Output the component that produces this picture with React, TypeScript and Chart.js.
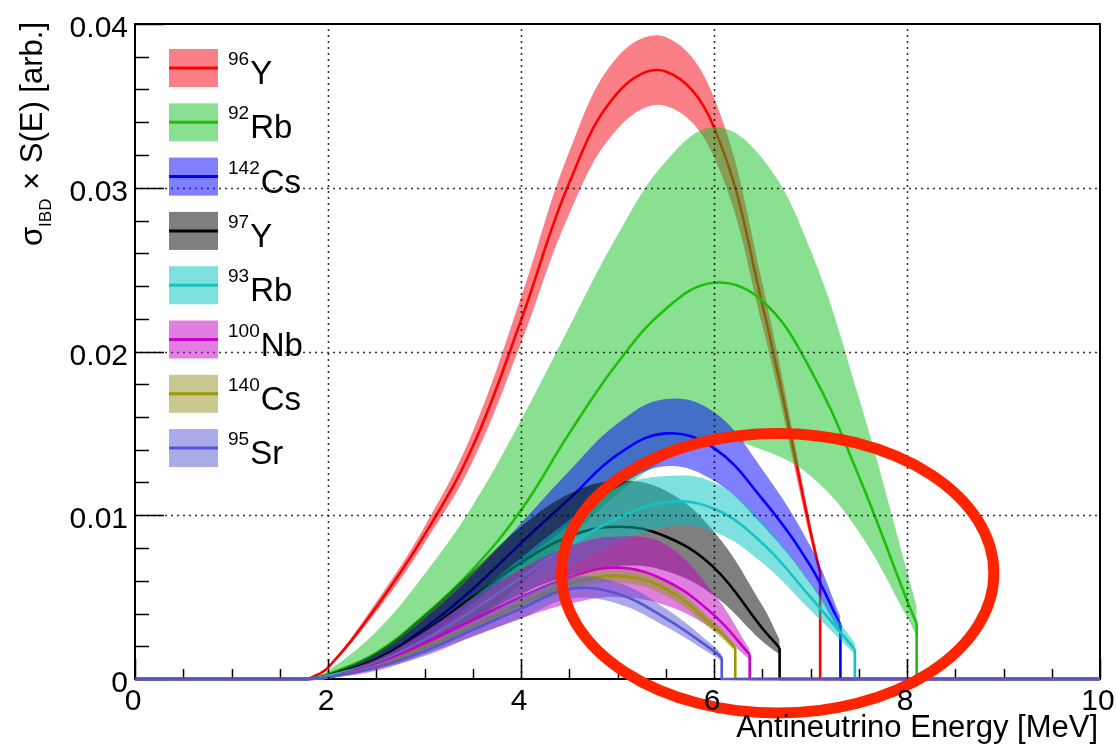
import React, { useEffect, useRef } from "react";
import { Chart, registerables } from "chart.js";

Chart.register(...registerables);

// ---------------- data ----------------
const ENERGY_GRID = [1.8, 2.0, 2.5, 3.0, 3.5, 4.0, 4.5, 5.0, 5.5, 6.0, 6.5, 7.0, 7.5, 8.0];

const MASS_NUMBERS = ["96", "92", "142", "97", "93", "100", "140", "95"];
const SYMBOLS = ["Y", "Rb", "Cs", "Y", "Rb", "Nb", "Cs", "Sr"];
const ENDPOINTS = [7.1, 8.1, 7.31, 6.68, 7.46, 6.37, 6.22, 6.08];

const Y96_C = [0, 0.0007, 0.0044, 0.0088, 0.0142, 0.0219, 0.0303, 0.0358, 0.0371, 0.0337, 0.0229, 0.009, 0.0065];
const Y96_U = [0, 0.00075, 0.0047, 0.0093, 0.0151, 0.0233, 0.0322, 0.038, 0.0392, 0.0355, 0.0242, 0.0095, 0.0068];
const Y96_L = [0, 0.00065, 0.0041, 0.0083, 0.0133, 0.0205, 0.0284, 0.0336, 0.035, 0.0319, 0.0216, 0.0085, 0.0062];

const RB92_C = [0, 0.0003, 0.0016, 0.0039, 0.0067, 0.0103, 0.015, 0.0193, 0.0226, 0.0242, 0.0231, 0.0189, 0.0124, 0.0048, 0.0034];
const RB92_U = [0, 0.0005, 0.0029, 0.0064, 0.0106, 0.0158, 0.0215, 0.0271, 0.0316, 0.0337, 0.0318, 0.0262, 0.0172, 0.0066, 0.0044];
const RB92_L = [0, 0.0001, 0.0008, 0.002, 0.0036, 0.0058, 0.0086, 0.0113, 0.0134, 0.0146, 0.014, 0.0124, 0.009, 0.0038, 0.0026];

const CS142_C = [0, 0.0002, 0.0012, 0.0031, 0.0055, 0.0083, 0.011, 0.0137, 0.015, 0.0141, 0.011, 0.0069, 0.0033];
const CS142_U = [0, 0.00025, 0.0015, 0.0037, 0.0064, 0.0095, 0.0127, 0.0156, 0.0171, 0.0163, 0.0128, 0.0081, 0.0038];
const CS142_L = [0, 0.00015, 0.0009, 0.0025, 0.0046, 0.0071, 0.0094, 0.0117, 0.013, 0.0121, 0.0094, 0.0058, 0.0028];

const Y97_C = [0, 0.0002, 0.0012, 0.0029, 0.005, 0.0071, 0.0087, 0.0093, 0.0087, 0.0068, 0.0031, 0.0019];
const Y97_U = [0, 0.0003, 0.0016, 0.0039, 0.0066, 0.0093, 0.0113, 0.0121, 0.0115, 0.009, 0.0045, 0.0024];
const Y97_L = [0, 0.0001, 0.0008, 0.002, 0.0036, 0.0052, 0.0063, 0.0069, 0.0066, 0.0051, 0.0023, 0.0015];

const RB93_C = [0, 0.0002, 0.001, 0.0024, 0.0042, 0.0062, 0.0082, 0.0098, 0.0108, 0.0104, 0.0083, 0.005, 0.0018];
const RB93_U = [0, 0.00025, 0.0012, 0.0029, 0.005, 0.0074, 0.0097, 0.0117, 0.0124, 0.012, 0.0096, 0.0059, 0.0022];
const RB93_L = [0, 0.00015, 0.0008, 0.0019, 0.0034, 0.0051, 0.0068, 0.0083, 0.0093, 0.009, 0.0071, 0.0042, 0.0015];

const NB100_C = [0, 0.0001, 0.0009, 0.0022, 0.0036, 0.005, 0.0062, 0.0068, 0.006, 0.0039, 0.0015];
const NB100_U = [0, 0.00015, 0.0012, 0.0029, 0.0049, 0.0067, 0.0081, 0.0087, 0.0082, 0.0052, 0.0018];
const NB100_L = [0, 0.00005, 0.0005, 0.0015, 0.0026, 0.0037, 0.0046, 0.005, 0.0045, 0.003, 0.0012];

const CS140_C = [0, 0.0001, 0.0008, 0.0019, 0.0032, 0.0046, 0.0058, 0.0063, 0.0055, 0.0032, 0.0019];
const CS140_U = [0, 0.00012, 0.0009, 0.0021, 0.0035, 0.005, 0.0062, 0.0067, 0.0059, 0.0035, 0.0021];
const CS140_L = [0, 0.00008, 0.0007, 0.0017, 0.0029, 0.0042, 0.0054, 0.0059, 0.0051, 0.0029, 0.0017];

const SR95_C = [0, 0.0001, 0.0007, 0.0017, 0.003, 0.0043, 0.0055, 0.0052, 0.0037, 0.0017, 0.0013];
const SR95_U = [0, 0.00012, 0.0009, 0.002, 0.0035, 0.005, 0.0062, 0.0059, 0.0043, 0.002, 0.0015];
const SR95_L = [0, 0.00008, 0.0006, 0.0014, 0.0026, 0.0037, 0.0049, 0.0046, 0.0032, 0.0014, 0.0011];

const CENTERS = [Y96_C, RB92_C, CS142_C, Y97_C, RB93_C, NB100_C, CS140_C, SR95_C];
const UPPERS = [Y96_U, RB92_U, CS142_U, Y97_U, RB93_U, NB100_U, CS140_U, SR95_U];
const LOWERS = [Y96_L, RB92_L, CS142_L, Y97_L, RB93_L, NB100_L, CS140_L, SR95_L];

const LINE_COLORS = [
  "rgb(255,0,0)",
  "rgb(30,190,10)",
  "rgb(0,0,255)",
  "rgb(0,0,0)",
  "rgb(20,195,195)",
  "rgb(200,0,200)",
  "rgb(153,153,0)",
  "rgb(85,85,215)",
];
const BAND_COLORS = [
  "rgba(245,0,15,0.5)",
  "rgba(17,193,33,0.5)",
  "rgba(0,0,255,0.5)",
  "rgba(0,0,0,0.5)",
  "rgba(0,193,193,0.5)",
  "rgba(193,0,193,0.5)",
  "rgba(145,145,35,0.5)",
  "rgba(85,85,210,0.5)",
];

const X_MIN = 0;
const X_MAX = 10;
const Y_MIN = 0;
const Y_MAX = 0.04;
const X_TICKS = [0, 2, 4, 6, 8, 10];
const X_TICK_LABELS = ["0", "2", "4", "6", "8", "10"];
const Y_TICKS = [0, 0.01, 0.02, 0.03, 0.04];
const Y_TICK_LABELS = ["0", "0.01", "0.02", "0.03", "0.04"];
const X_MINOR_STEP = 0.5;
const Y_MINOR_STEP = 0.002;

const X_TITLE = "Antineutrino Energy [MeV]";

// annotation ellipse (data coordinates)
const ELLIPSE_CENTER = { x: 6.66, y: 0.00646 };
const ELLIPSE_RADII = { x: 2.24, y: 0.00854 };

const FONT = '"Liberation Sans", Arial, Helvetica, sans-serif';

// ---------------- plugin: ROOT-like frame, grid, legend, labels ----------------
const rootStyle = {
  id: "rootStyle",
  beforeDatasetsDraw(chart: any) {
    const { ctx, chartArea: a, scales } = chart;
    const x = scales.x;
    const y = scales.y;
    ctx.save();
    ctx.strokeStyle = "#000";
    ctx.lineWidth = 2;
    ctx.strokeRect(a.left, a.top, a.right - a.left, a.bottom - a.top);
    ctx.lineWidth = 1.5;
    const nx = Math.round((X_MAX - X_MIN) / X_MINOR_STEP);
    for (let i = 0; i <= nx; i++) {
      const v = X_MIN + i * X_MINOR_STEP;
      const px = Math.round(x.getPixelForValue(v)) + 0.5;
      const len = i % 4 === 0 ? 20 : 10;
      ctx.beginPath();
      ctx.moveTo(px, a.bottom);
      ctx.lineTo(px, a.bottom - len);
      ctx.stroke();
    }
    const ny = Math.round((Y_MAX - Y_MIN) / Y_MINOR_STEP);
    for (let i = 0; i <= ny; i++) {
      const v = Y_MIN + i * Y_MINOR_STEP;
      const py = Math.round(y.getPixelForValue(v)) + 0.5;
      const len = i % 5 === 0 ? 29 : 14;
      ctx.beginPath();
      ctx.moveTo(a.left, py);
      ctx.lineTo(a.left + len, py);
      ctx.stroke();
    }
    ctx.restore();
  },
  afterDatasetsDraw(chart: any) {
    const { ctx, chartArea: a, scales } = chart;
    const x = scales.x;
    const y = scales.y;
    ctx.save();
    ctx.strokeStyle = "rgba(0,0,0,0.8)";
    ctx.lineWidth = 1.6;
    ctx.setLineDash([2, 4]);
    X_TICKS.forEach((v) => {
      if (v === X_MIN || v === X_MAX) return;
      const px = Math.round(x.getPixelForValue(v)) + 0.5;
      ctx.beginPath();
      ctx.moveTo(px, a.bottom);
      ctx.lineTo(px, a.top);
      ctx.stroke();
    });
    Y_TICKS.forEach((v) => {
      if (v === Y_MIN || v === Y_MAX) return;
      const py = Math.round(y.getPixelForValue(v)) + 0.5;
      ctx.beginPath();
      ctx.moveTo(a.left, py);
      ctx.lineTo(a.right, py);
      ctx.stroke();
    });
    ctx.restore();
  },
  afterDraw(chart: any) {
    const { ctx, chartArea: a, scales } = chart;
    const x = scales.x;
    const y = scales.y;
    ctx.save();

    // legend
    const boxL = 169;
    const boxW = 49;
    const boxH = 38;
    const rowY0 = 68;
    const rowDY = 54.3;
    MASS_NUMBERS.forEach((m, k) => {
      const cy = rowY0 + k * rowDY;
      ctx.fillStyle = BAND_COLORS[k];
      ctx.fillRect(boxL, cy - boxH / 2, boxW, boxH);
      ctx.strokeStyle = LINE_COLORS[k];
      ctx.lineWidth = 3;
      ctx.beginPath();
      ctx.moveTo(boxL, cy);
      ctx.lineTo(boxL + boxW, cy);
      ctx.stroke();
      ctx.fillStyle = "#000";
      ctx.textAlign = "left";
      ctx.textBaseline = "alphabetic";
      ctx.font = `19px ${FONT}`;
      ctx.fillText(m, 228, cy - 3);
      const w = ctx.measureText(m).width;
      ctx.font = `33px ${FONT}`;
      ctx.fillText(SYMBOLS[k], 228 + w + 1, cy + 16);
    });

    // annotation ellipse
    const ecx = x.getPixelForValue(ELLIPSE_CENTER.x);
    const ecy = y.getPixelForValue(ELLIPSE_CENTER.y);
    const erx = x.getPixelForValue(ELLIPSE_CENTER.x + ELLIPSE_RADII.x) - ecx;
    const ery = ecy - y.getPixelForValue(ELLIPSE_CENTER.y + ELLIPSE_RADII.y);
    ctx.strokeStyle = "rgb(255,36,0)";
    ctx.lineWidth = 11;
    ctx.beginPath();
    ctx.ellipse(ecx, ecy, erx, ery, 0, 0, Math.PI * 2);
    ctx.stroke();

    // tick labels
    ctx.fillStyle = "#000";
    ctx.font = `30px ${FONT}`;
    ctx.textBaseline = "alphabetic";
    ctx.textAlign = "right";
    Y_TICKS.forEach((v, i) => {
      const py = y.getPixelForValue(v);
      ctx.fillText(Y_TICK_LABELS[i], a.left - 7, py + 13);
    });
    ctx.textAlign = "center";
    X_TICKS.forEach((v, i) => {
      const px = x.getPixelForValue(v);
      ctx.fillText(X_TICK_LABELS[i], px - 2, a.bottom + 31);
    });

    // x title
    ctx.font = `31px ${FONT}`;
    ctx.textAlign = "right";
    ctx.fillText(X_TITLE, a.right - 2, a.bottom + 58);

    // y title: sigma_IBD x S(E) [arb.]
    const parts = [
      { t: "σ", size: 31, dy: 0 },
      { t: "IBD", size: 17, dy: 9 },
      { t: " × S(E) [arb.]", size: 31, dy: 0 },
    ];
    let total = 0;
    const widths = parts.map((p) => {
      ctx.font = `${p.size}px ${FONT}`;
      const w = ctx.measureText(p.t).width;
      total += w;
      return w;
    });
    ctx.translate(42, 22 + total);
    ctx.rotate(-Math.PI / 2);
    ctx.textAlign = "left";
    let cx = 0;
    parts.forEach((p, i) => {
      ctx.font = `${p.size}px ${FONT}`;
      ctx.fillText(p.t, cx, p.dy);
      cx += widths[i];
    });
    ctx.restore();
  },
};

export default function App() {
  const ref = useRef<HTMLCanvasElement>(null);

  useEffect(() => {
    const canvas = ref.current;
    if (!canvas) return;
    const datasets: any[] = [];
    MASS_NUMBERS.forEach((m, k) => {
      const end = ENDPOINTS[k];
      const energies = ENERGY_GRID.filter((e) => e < end).concat([end]);
      const toPts = (vals: number[]) => energies.map((e, i) => ({ x: e, y: vals[i] }));
      const c = CENTERS[k];
      const base = [
        { x: X_MIN, y: 0 },
        { x: ENERGY_GRID[0], y: 0 },
        { x: ENERGY_GRID[0], y: null },
        { x: end, y: c[c.length - 1] },
        { x: end, y: 0 },
        { x: X_MAX, y: 0 },
      ];
      const idx = datasets.length;
      datasets.push({
        label: `${m}${SYMBOLS[k]} upper`,
        data: toPts(UPPERS[k]),
        borderWidth: 0,
        borderColor: "rgba(0,0,0,0)",
        backgroundColor: BAND_COLORS[k],
        fill: { target: idx + 1 },
        tension: 0.4,
        pointRadius: 0,
      });
      datasets.push({
        label: `${m}${SYMBOLS[k]} lower`,
        data: toPts(LOWERS[k]),
        borderWidth: 0,
        borderColor: "rgba(0,0,0,0)",
        fill: false,
        tension: 0.4,
        pointRadius: 0,
      });
      datasets.push({
        label: `${m}${SYMBOLS[k]}`,
        data: toPts(c),
        borderWidth: 2.6,
        borderColor: LINE_COLORS[k],
        fill: false,
        tension: 0.4,
        pointRadius: 0,
        clip: false,
      });
      datasets.push({
        label: `${m}${SYMBOLS[k]} base`,
        data: base,
        borderWidth: 2.6,
        borderColor: LINE_COLORS[k],
        fill: false,
        tension: 0,
        spanGaps: false,
        pointRadius: 0,
        clip: false,
      });
    });
    datasets.forEach((d, i) => {
      d.order = 1000 - i;
    });

    const chart = new Chart(canvas, {
      type: "line",
      data: { datasets },
      options: {
        responsive: false,
        animation: false,
        devicePixelRatio: 1,
        layout: { padding: { left: 135, right: 16, top: 24, bottom: 70 } },
        plugins: { legend: { display: false }, tooltip: { enabled: false } },
        scales: {
          x: { type: "linear", min: X_MIN, max: X_MAX, display: false },
          y: { type: "linear", min: Y_MIN, max: Y_MAX, display: false },
        },
        elements: { point: { radius: 0 } },
      },
      plugins: [rootStyle],
    } as any);
    return () => chart.destroy();
  }, []);

  return (
    <div style={{ position: "absolute", left: 0, top: 0, width: 1116, height: 749, background: "#fff" }}>
      <canvas ref={ref} width={1116} height={749} style={{ display: "block" }} />
    </div>
  );
}
